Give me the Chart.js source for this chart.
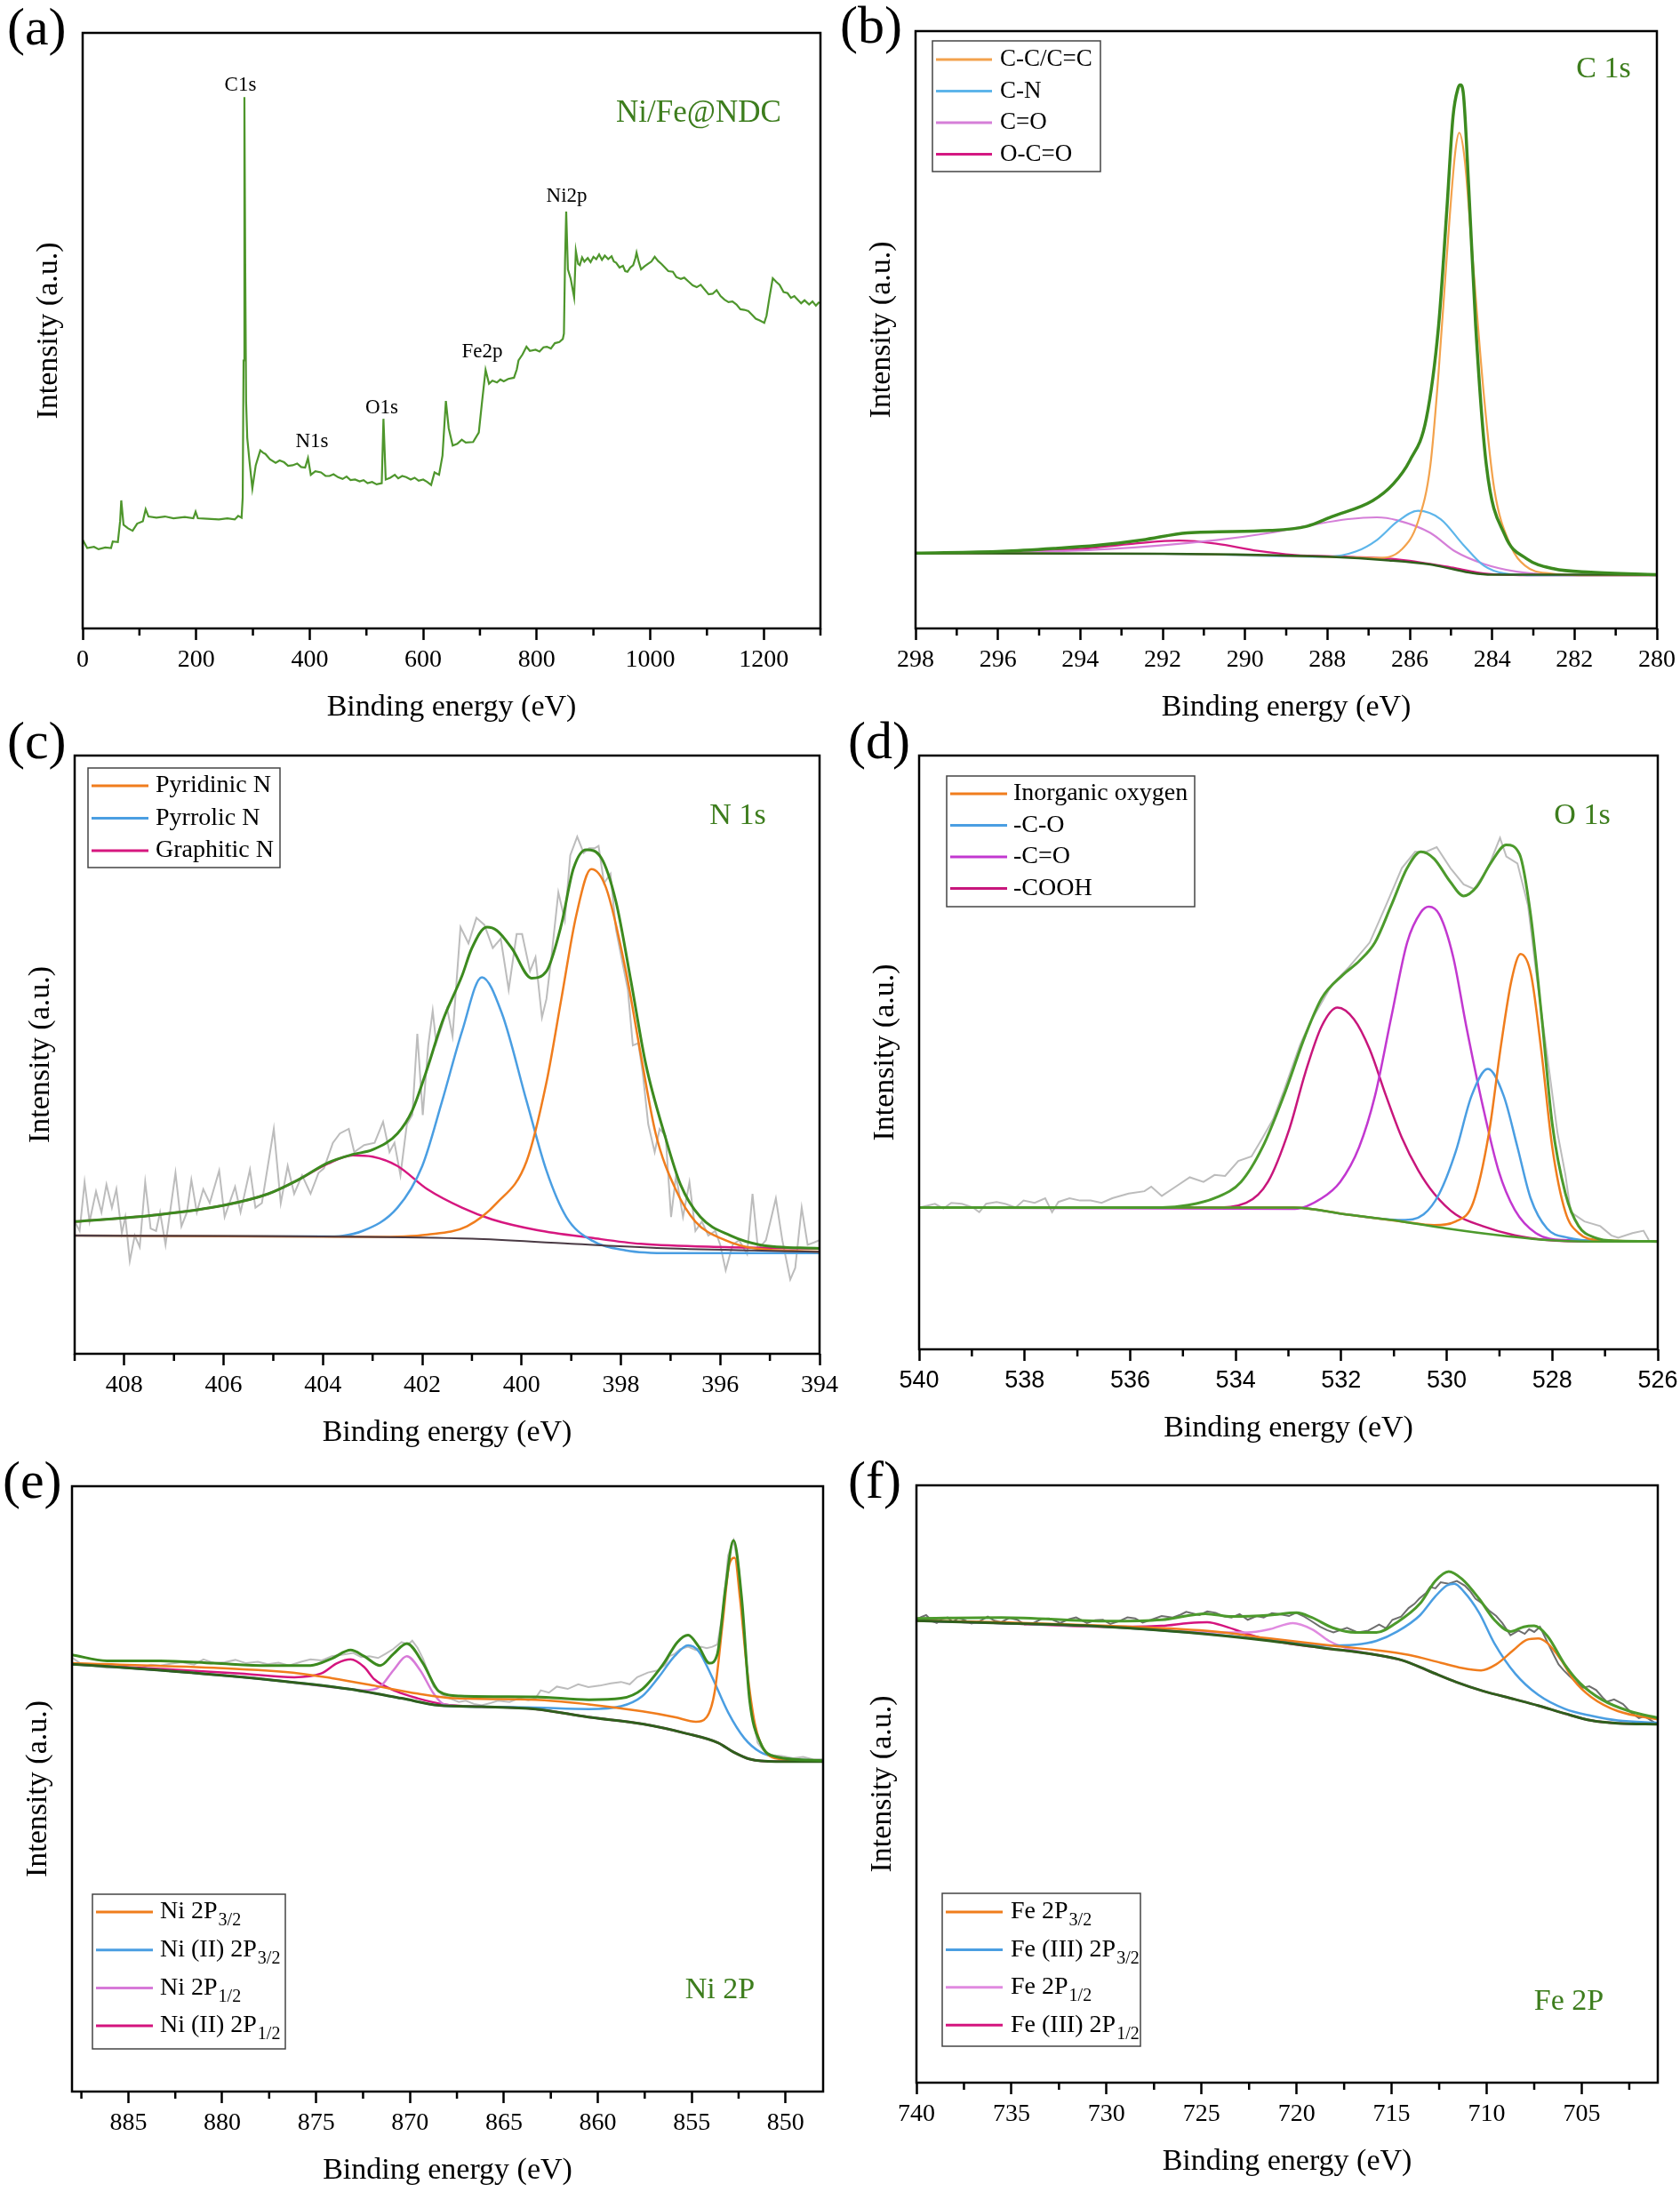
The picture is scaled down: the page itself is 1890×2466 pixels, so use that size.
<!DOCTYPE html>
<html>
<head>
<meta charset="utf-8">
<script src="https://cdn.jsdelivr.net/npm/chart.js@4.4.0/dist/chart.umd.min.js"></script>
<style>
html, body { margin: 0; padding: 0; background: #fff; }
body { width: 1890px; height: 2466px; position: relative; overflow: hidden; font-family: "Liberation Serif", "Times New Roman", serif; }
.panel { position: absolute; }
.tag { position: absolute; font-size: 60px; line-height: 1; color: #000; }
</style>
</head>
<body>
<div class="tag" style="left:8px;top:0px">(a)</div>
<div class="tag" style="left:945px;top:-2px">(b)</div>
<div class="tag" style="left:8px;top:803px">(c)</div>
<div class="tag" style="left:954px;top:803px">(d)</div>
<div class="tag" style="left:3px;top:1635px">(e)</div>
<div class="tag" style="left:954px;top:1635px">(f)</div>

<div class="panel" id="pa"><canvas id="ca"></canvas></div>
<div class="panel" id="pb"><canvas id="cb"></canvas></div>
<div class="panel" id="pc"><canvas id="cc"></canvas></div>
<div class="panel" id="pd"><canvas id="cd"></canvas></div>
<div class="panel" id="pe"><canvas id="ce"></canvas></div>
<div class="panel" id="pf"><canvas id="cf"></canvas></div>

<script>
// ---- tick labels (binding energy, eV) ----
const ticksA = [0, 200, 400, 600, 800, 1000, 1200];
const minorA = [100, 300, 500, 700, 900, 1100, 1300];
const ticksB = [298, 296, 294, 292, 290, 288, 286, 284, 282, 280];
const minorB = [297, 295, 293, 291, 289, 287, 285, 283, 281];
const ticksC = [408, 406, 404, 402, 400, 398, 396, 394];
const minorC = [409, 407, 405, 403, 401, 399, 397, 395];
const ticksD = [540, 538, 536, 534, 532, 530, 528, 526];
const minorD = [539, 537, 535, 533, 531, 529, 527];
const ticksE = [885, 880, 875, 870, 865, 860, 855, 850];
const minorE = [887.5, 882.5, 877.5, 872.5, 867.5, 862.5, 857.5, 852.5];
const ticksF = [740, 735, 730, 725, 720, 715, 710, 705];
const minorF = [737.5, 732.5, 727.5, 722.5, 717.5, 712.5, 707.5, 702.5];

// ---- (a) survey spectrum [eV, intensity a.u.] ----
const survey = [[0,14.9],[8,13.5],[20,13.7],[28,13.3],[40,13.6],[50,13.5],[53,14.6],[62,14.5],[66,18.0],[68,21.5],[72,17.4],[80,16.8],[88,16.4],[96,17.6],[106,18.0],[111,20.0],[116,18.8],[130,18.6],[145,18.8],[160,18.5],[180,18.7],[195,18.5],[199,19.6],[203,18.5],[220,18.4],[240,18.3],[255,18.5],[268,18.3],[274,18.9],[280,18.6],[282,22],[283.5,45],[285,89.2],[286.5,60],[288,38],[290,32],[294,28],[299,23.5],[305,27.4],[313,29.9],[318,29.5],[322,29.3],[330,28.4],[340,27.8],[347,28.2],[355,27.9],[362,27.3],[370,27.4],[378,27.7],[385,27.1],[392,27.0],[397,28.6],[402,25.8],[410,26.4],[420,26.2],[428,25.6],[435,25.6],[442,25.9],[450,25.4],[458,25.1],[465,25.5],[472,24.9],[480,25.0],[488,24.7],[495,24.9],[502,24.4],[510,24.6],[518,24.2],[527,24.4],[530,35.2],[534,25.0],[542,25.3],[550,25.8],[556,25.2],[563,25.6],[570,25.4],[578,25.0],[585,25.3],[592,24.8],[600,25.0],[607,24.6],[614,24.1],[620,26.2],[628,25.8],[634,29.0],[640,38.2],[645,33.6],[652,30.7],[660,31.0],[668,31.7],[675,31.2],[688,31.3],[698,32.9],[704,38.3],[710,43.4],[716,41.1],[722,41.6],[730,41.3],[736,41.8],[742,41.5],[750,41.9],[760,42.1],[765,43.5],[768,45.0],[775,46.0],[782,47.3],[788,46.6],[798,46.8],[805,46.5],[812,47.2],[818,47.3],[825,47.0],[832,47.9],[840,48.1],[846,48.6],[848,49.5],[850,61.8],[852,70.0],[855,60.3],[860,58.7],[866,55.6],[869,63.4],[873,61.2],[876,61.0],[880,62.3],[884,61.6],[890,62.2],[895,61.5],[900,62.4],[905,62.0],[910,62.8],[915,61.9],[920,62.6],[926,62.0],[932,62.5],[936,61.6],[940,61.4],[946,60.6],[952,60.9],[956,60.0],[960,59.9],[965,60.6],[970,61.0],[974,62.2],[976,63.1],[980,61.5],[984,60.3],[990,60.8],[996,61.2],[1002,61.6],[1008,62.4],[1014,61.7],[1020,61.2],[1026,60.6],[1032,60.0],[1040,59.9],[1046,59.0],[1054,58.7],[1060,58.9],[1068,58.2],[1075,57.6],[1082,57.3],[1089,57.7],[1096,56.9],[1103,56.1],[1110,56.2],[1117,56.8],[1124,55.8],[1131,55.2],[1138,54.8],[1145,54.9],[1152,54.4],[1159,53.6],[1166,53.5],[1173,53.3],[1180,52.6],[1186,52.0],[1193,51.7],[1201,51.3],[1205,52.5],[1210,55.5],[1216,58.8],[1222,58.2],[1228,57.7],[1235,56.5],[1242,56.3],[1248,55.5],[1254,55.8],[1260,55.2],[1266,54.6],[1272,55.1],[1280,54.4],[1286,54.9],[1292,54.2],[1298,54.8]];
const surveyNames = ['C1s', 'N1s', 'O1s', 'Fe2p', 'Ni2p'];
const surveyNameX = [278, 404, 527, 704, 853];
const surveyNameY = [91.2, 31.3, 37.0, 46.4, 72.5];

// ---- (b) C 1s ----
const c1sRaw = [[298,12.6],[295.9,12.9],[294.6,13.4],[293.6,13.9],[292.5,14.8],[291.4,16.0],[289.4,16.4],[288.5,17.1],[287.9,18.7],[286.9,21.4],[286.4,24.2],[286.0,28.1],[285.6,35.1],[285.3,50.7],[285.1,70.1],[284.95,85.7],[284.83,90.4],[284.77,91.0],[284.7,89.6],[284.57,74.0],[284.4,50.7],[284.14,27.3],[283.69,15.6],[283.17,11.7],[282.51,10.0],[281.6,9.4],[280,9.0]];
const c1sBg = [[298,12.6],[292,12.5],[288,12.0],[286.5,11.4],[285.5,10.7],[285,10.0],[284.5,9.3],[284,9.0],[280,9.0]];
const c1sCC = [[298,12.6],[292,12.5],[288,12.0],[286.8,11.8],[286.2,13.2],[285.8,17.9],[285.5,27.3],[285.3,42.9],[285.1,62.4],[284.9,79.5],[284.8,83.0],[284.67,78.7],[284.47,61.6],[284.2,39.0],[283.95,23.4],[283.56,14.0],[283.2,10.5],[282.6,9.2],[281.6,8.9],[280,8.9]];
const c1sCN = [[298,12.6],[292,12.5],[288,12.0],[287.3,12.9],[286.8,14.8],[286.3,17.9],[285.8,19.7],[285.25,18.3],[284.7,14.0],[284.2,10.5],[283.7,9.2],[282.9,8.9],[280,8.9]];
const c1sCO = [[298,12.6],[296,12.7],[293.3,13.3],[290.7,14.8],[289.4,16.0],[288.4,17.3],[287.5,18.3],[286.8,18.6],[286.3,18.1],[285.5,16.0],[284.9,12.9],[284.2,10.8],[283.4,9.5],[282.6,9.0],[281.6,8.9],[280,8.9]];
const c1sOCO = [[298,12.6],[295.9,12.7],[294.0,13.3],[292.7,14.2],[291.6,14.7],[290.7,14.2],[289.7,13.0],[288.8,12.3],[287.5,12.0],[286.2,11.5],[284.9,10.1],[284.2,9.2],[282.9,8.9],[280,8.9]];

// ---- (c) N 1s ----
const n1sRaw = [[409.0,285],[408.9,265],[408.8,370],[408.7,285],[408.57,350],[408.46,305],[408.36,365],[408.25,315],[408.16,355],[408.05,260],[407.98,295],[407.89,200],[407.79,255],[407.69,230],[407.58,370],[407.47,270],[407.36,265],[407.28,305],[407.17,235],[406.97,390],[406.85,275],[406.74,305],[406.65,375],[406.54,305],[406.41,355],[406.28,325],[406.09,395],[405.98,295],[405.77,360],[405.66,305],[405.47,397],[405.36,315],[405.23,325],[404.99,485],[404.85,325],[404.71,405],[404.58,345],[404.42,385],[404.25,345],[404.09,390],[403.98,400],[403.8,455],[403.66,475],[403.48,485],[403.37,435],[403.17,450],[402.96,455],[402.79,500],[402.66,435],[402.56,455],[402.44,385],[402.31,495],[402.2,515],[402.1,690],[401.99,515],[401.88,665],[401.79,740],[401.72,670],[401.61,705],[401.5,745],[401.39,685],[401.23,920],[401.07,885],[400.91,940],[400.75,925],[400.58,875],[400.42,895],[400.26,785],[400.1,905],[399.99,905],[399.83,825],[399.72,855],[399.59,725],[399.5,765],[399.4,855],[399.26,995],[399.13,935],[399.02,1075],[398.88,1115],[398.75,1080],[398.64,1090],[398.53,1090],[398.45,1095],[398.34,1015],[398.21,1035],[398.1,915],[397.99,855],[397.86,785],[397.76,665],[397.65,670],[397.56,605],[397.45,495],[397.32,435],[397.22,485],[397.1,470],[396.99,295],[396.89,385],[396.75,295],[396.62,370],[396.5,265],[396.37,285],[396.24,255],[396.1,265],[396.0,235],[395.89,180],[395.75,235],[395.62,245],[395.46,215],[395.35,345],[395.24,225],[395.08,245],[394.88,335],[394.75,245],[394.59,160],[394.49,185],[394.36,315],[394.24,235],[394.11,240],[394.0,245]];
const n1sBg = [[409,255],[404,253],[401,248],[399,237],[397,227],[394,220]];
const n1sPyridinic = [[409,255],[403,252],[401.9,257],[401.1,275],[400.5,325],[399.9,415],[399.5,585],[399.2,765],[398.9,945],[398.6,1045],[398.3,1005],[397.9,825],[397.6,645],[397.3,475],[396.9,355],[396.5,285],[395.9,245],[395.3,227],[394,220]];
const n1sPyrrolic = [[409,255],[404,253],[403.2,265],[402.5,315],[402.0,405],[401.6,545],[401.2,695],[400.8,812],[400.4,735],[399.9,545],[399.5,395],[399.1,295],[398.6,245],[397.9,223],[397.0,217],[394,217]];
const n1sGraphitic = [[409,285],[407.3,300],[406.0,320],[405.1,345],[404.5,375],[403.9,410],[403.4,428],[403.0,425],[402.5,405],[401.9,355],[401.2,315],[400.6,290],[399.7,267],[398.6,250],[397.6,237],[395.9,230],[394,227]];
const n1sFit = [[409,285],[407.3,300],[406.0,320],[405.1,345],[404.5,375],[403.9,412],[403.4,430],[403.0,440],[402.5,475],[402.2,525],[401.9,615],[401.6,715],[401.2,815],[401.0,875],[400.7,920],[400.5,913],[400.2,875],[399.8,810],[399.5,825],[399.2,925],[398.96,1045],[398.7,1087],[398.4,1070],[398.1,975],[397.8,805],[397.5,625],[397.1,465],[396.8,365],[396.4,295],[395.8,255],[395.2,235],[394,227]];

// ---- (d) O 1s ----
const o1sRaw = [[540,305],[539.7,313],[539.54,303],[539.39,315],[539.19,313],[538.98,305],[538.86,295],[538.73,313],[538.53,317],[538.37,313],[538.17,305],[538.02,320],[537.81,315],[537.61,325],[537.48,295],[537.36,317],[537.15,325],[536.95,320],[536.75,320],[536.54,315],[536.34,325],[536.03,335],[535.73,340],[535.6,350],[535.4,330],[535.2,345],[534.87,370],[534.61,360],[534.4,375],[534.2,373],[533.95,405],[533.7,415],[533.49,455],[533.29,495],[533.09,555],[532.78,655],[532.58,705],[532.17,785],[531.87,820],[531.46,875],[531.15,955],[530.85,1035],[530.6,1070],[530.39,1070],[530.19,1080],[529.93,1035],[529.68,1000],[529.48,990],[529.22,1035],[528.99,1100],[528.87,1060],[528.66,1045],[528.46,955],[528.31,815],[528.1,635],[527.9,465],[527.75,375],[527.65,295],[527.39,275],[527.09,265],[526.88,245],[526.75,240],[526.48,250],[526.27,255],[526.17,235]];
const o1sBg = [[540,305],[532.9,305],[531.9,290],[530.85,275],[530.0,260],[529.0,245],[528.1,235],[527.3,232],[526,232]];
const o1sInorganic = [[540,305],[532.9,305],[531.9,290],[530.85,275],[530.24,267],[529.83,275],[529.5,315],[529.2,465],[528.97,655],[528.77,795],[528.6,850],[528.4,805],[528.2,635],[528.0,435],[527.75,295],[527.5,250],[527.1,235],[526,232]];
const o1sCO = [[540,305],[532.9,305],[531.9,290],[530.85,278],[530.44,290],[530.14,335],[529.83,425],[529.53,545],[529.22,603],[528.92,545],[528.66,435],[528.41,325],[528.1,260],[527.7,240],[527.1,233],[526,232]];
const o1sCdO = [[540,305],[532.88,302],[532.37,325],[532.02,360],[531.66,435],[531.36,545],[531.05,715],[530.75,875],[530.49,940],[530.34,952],[530.14,935],[529.88,845],[529.63,695],[529.32,525],[529.02,385],[528.71,300],[528.31,250],[527.8,235],[526,232]];
const o1sCOOH = [[540,305],[534.4,305],[533.8,315],[533.39,360],[532.98,475],[532.68,595],[532.37,695],[532.07,735],[531.76,710],[531.46,645],[531.15,545],[530.85,455],[530.54,385],[530.24,335],[529.83,290],[529.32,265],[528.71,245],[528.1,235],[527.3,232],[526,232]];
const o1sFit = [[540,305],[535.4,305],[534.9,310],[534.4,325],[533.9,360],[533.49,435],[533.09,545],[532.68,675],[532.37,755],[531.97,805],[531.66,835],[531.36,875],[531.05,955],[530.75,1035],[530.49,1070],[530.24,1055],[529.93,1005],[529.68,975],[529.43,995],[529.17,1045],[528.87,1085],[528.62,1065],[528.41,935],[528.2,715],[528.0,485],[527.75,335],[527.5,265],[527.19,240],[526.78,233],[526,232]];

// ---- (e) Ni 2p ----
const ni2pRaw = [[888,927],[887.57,915],[887.0,910],[886.14,905],[885.3,908],[884.43,903],[883.8,912],[883.29,910],[882.7,914],[882.15,917],[881.5,912],[881.0,923],[880.4,915],[879.87,917],[879.3,922],[878.73,915],[878.1,918],[877.58,913],[877.0,916],[876.44,910],[875.8,918],[875.3,923],[874.7,921],[874.16,930],[873.6,933],[873.02,937],[872.6,928],[872.16,930],[871.7,926],[871.31,935],[870.9,945],[870.45,960],[870.1,955],[869.88,963],[869.6,948],[869.31,925],[869.0,892],[868.74,865],[868.3,848],[867.89,840],[867.4,832],[867.03,835],[866.6,828],[866.18,825],[865.7,830],[865.32,835],[864.7,832],[864.18,840],[863.7,836],[863.32,840],[863.04,857],[862.6,852],[862.18,865],[861.6,860],[861.04,870],[860.5,864],[859.9,867],[859.3,872],[858.76,875],[858.3,870],[857.9,885],[857.33,895],[856.76,900],[856.4,912],[856.19,930],[855.9,935],[855.62,945],[855.19,950],[854.77,943],[854.5,950],[854.2,947],[853.9,950],[853.63,955],[853.34,1025],[853.06,1145],[852.77,1177],[852.48,1115],[852.2,975],[851.91,835],[851.49,745],[851.06,723],[850.6,718],[850.2,717],[849.6,712],[849.06,715],[848.5,709],[848,710]];
const ni2pBg = [[888,913],[883.3,900],[877.6,880],[873.3,860],[870.45,840],[868.46,825],[866.2,822],[863.3,817],[860.5,800],[857.6,785],[855.3,765],[853.6,745],[852.77,725],[851.9,710],[850.5,705],[848,705]];
const ni2p32 = [[888,915],[880.44,905],[875.87,893],[874.16,883],[871.88,867],[869.6,850],[867.6,840],[863.32,837],[860.47,827],[857.62,812],[855.91,800],[854.77,790],[854.2,800],[853.77,855],[853.34,1005],[853.0,1125],[852.71,1140],[852.43,1055],[852.06,905],[851.63,785],[851.06,725],[850.2,710],[848,705]];
const ni2pII32 = [[888,913],[883.3,900],[877.6,880],[873.3,860],[870.45,840],[868.46,825],[866.2,822],[863.32,820],[860.47,817],[858.76,823],[857.62,845],[856.76,885],[855.91,930],[855.19,953],[854.62,940],[853.91,885],[853.06,810],[852.2,755],[851.34,725],[850.2,712],[848,707]];
const ni2p12 = [[888,913],[883.3,900],[877.6,880],[873.3,860],[872.45,857],[871.59,865],[870.88,900],[870.17,930],[869.46,900],[868.74,850],[868.17,827],[866.18,822],[863.3,817],[860.5,800],[857.6,785],[855.3,765],[853.6,745],[852.77,725],[851.9,710],[850.5,705],[848,705]];
const ni2pII12 = [[888,913],[883.29,903],[879.01,893],[876.16,885],[874.73,893],[873.88,915],[873.16,923],[872.45,907],[871.88,880],[870.74,855],[869.6,840],[868.17,827],[866.18,822],[863.3,817],[860.5,800],[857.6,785],[855.3,765],[853.6,745],[852.77,725],[851.9,710],[850.5,705],[848,705]];
const ni2pFit = [[888,933],[886.14,920],[883.29,920],[880.44,915],[877.58,910],[875.3,910],[874.16,925],[873.16,943],[872.45,930],[871.59,910],[870.88,935],[870.17,957],[869.31,915],[868.46,855],[867.32,845],[863.32,843],[860.47,837],[858.76,840],[857.62,860],[856.48,915],[855.76,960],[855.19,975],[854.62,950],[854.05,915],[853.63,935],[853.2,1075],[852.77,1177],[852.34,1055],[851.91,835],[851.34,745],[850.49,715],[848,707]];

// ---- (f) Fe 2p ----
const fe2pRaw = [[740,988],[739.75,994],[739.49,998],[739.2,986],[738.93,981],[738.65,990],[738.36,993],[738.08,983],[737.8,992],[737.52,988],[737.1,980],[736.67,985],[736.25,995],[735.9,986],[735.54,983],[735.1,992],[734.7,988],[734.3,978],[733.85,981],[733.4,990],[733.01,991],[732.44,981],[732.0,989],[731.6,993],[731.03,981],[730.6,987],[730.19,988],[729.8,979],[729.34,985],[728.9,993],[728.49,991],[728.1,982],[727.65,988],[727.1,996],[726.52,993],[726.1,999],[725.81,1005],[725.11,998],[724.7,1006],[724.26,1003],[723.8,995],[723.42,993],[723.0,1000],[722.57,988],[722.1,996],[721.73,993],[721.3,1002],[720.88,1000],[720.4,996],[720.03,1003],[719.6,995],[719.33,988],[718.76,973],[718.4,966],[718.06,961],[717.35,971],[716.79,961],[716.23,965],[715.66,978],[715.3,970],[714.96,988],[714.5,995],[714.11,1013],[713.8,1022],[713.55,1033],[713.2,1045],[712.98,1058],[712.7,1055],[712.42,1068],[712.0,1065],[711.57,1071],[711.15,1061],[710.85,1048],[710.59,1033],[710.2,1022],[709.88,1008],[709.5,996],[709.18,981],[708.75,955],[708.33,965],[708.0,958],[707.77,968],[707.5,962],[707.2,973],[706.78,938],[706.5,915],[706.22,893],[705.95,880],[705.65,868],[705.3,855],[704.95,843],[704.6,846],[704.24,838],[703.9,822],[703.68,813],[703.3,818],[702.83,808],[702.4,790],[701.99,778],[701.7,782],[701.42,775],[700.94,763]];
const fe2pBg = [[740,986],[735.54,981],[729.9,973],[725.7,961],[721.4,943],[718.6,928],[715.8,913],[714.4,901],[713.0,878],[711.6,855],[710.2,836],[708.5,818],[707.3,805],[705.9,788],[704.5,773],[703.1,767],[700.94,765]];
const fe2p32 = [[740,986],[735.54,983],[729.9,975],[724.3,963],[721.4,948],[718.6,935],[715.8,923],[714.1,913],[712.4,896],[711.3,885],[710.3,880],[709.5,893],[708.6,923],[707.9,945],[707.3,948],[706.8,938],[706.1,903],[705.4,858],[704.5,823],[703.1,793],[700.94,775]];
const fe2pIII32 = [[740,986],[735.54,981],[729.9,973],[725.7,961],[721.4,945],[720.0,938],[718.6,933],[716.9,935],[715.8,943],[714.7,963],[713.5,998],[712.7,1038],[712.1,1061],[711.7,1065],[711.2,1048],[710.4,1003],[709.6,938],[708.5,873],[707.3,828],[705.9,798],[704.5,783],[703.1,773],[700.94,768]];
const fe2p12 = [[740,986],[735.54,981],[729.9,973],[724.3,961],[722.6,961],[721.4,968],[720.2,981],[719.2,968],[718.3,943],[717.2,925],[715.8,913],[714.4,901],[713.0,878],[711.6,855],[710.2,836],[708.5,818],[707.3,805],[705.9,788],[704.5,773],[703.1,767],[700.94,765]];
const fe2pIII12 = [[740,986],[735.54,981],[729.9,973],[727.1,975],[725.7,981],[724.7,983],[723.7,973],[722.6,958],[721.4,945],[720.0,935],[718.6,928],[715.8,913],[714.4,901],[713.0,878],[711.6,855],[710.2,836],[708.5,818],[707.3,805],[705.9,788],[704.5,773],[703.1,767],[700.94,765]];
const fe2pFit = [[740,991],[735.54,993],[729.9,985],[727.1,988],[724.8,1001],[723.4,995],[721.4,998],[720.0,1003],[719.2,993],[718.1,971],[716.9,961],[715.8,961],[714.7,983],[713.5,1023],[712.7,1071],[712.0,1091],[711.3,1075],[710.4,1033],[709.6,988],[708.75,963],[708.05,973],[707.5,975],[706.8,953],[705.9,893],[705.1,853],[703.96,818],[702.5,793],[700.94,778]];

// ---- colours ----
const GREEN_FIT = '#3c8a1f';
const GREEN_BG = '#2f5f1c';
const GREEN_TEXT = '#3d7d1d';
const SERIF = '"Liberation Serif", "Times New Roman", serif';
const SANS = '"Liberation Sans", Arial, sans-serif';

Chart.defaults.font.family = SERIF;
Chart.defaults.color = '#000';

// frame, minor ticks, legend box and text notes, drawn against the chart area
const framePlugin = {
    id: 'frame',
    afterDatasetsDraw(chart, args, opts) {
        const { ctx, chartArea: a, scales } = chart;
        ctx.save();
        ctx.strokeStyle = '#000';
        ctx.lineWidth = 2.5;
        ctx.strokeRect(a.left, a.top, a.right - a.left, a.bottom - a.top);
        ctx.lineWidth = 2.5;
        ctx.beginPath();
        (opts.minor || []).forEach(v => {
            const px = scales.x.getPixelForValue(v);
            ctx.moveTo(px, a.bottom);
            ctx.lineTo(px, a.bottom + 8);
        });
        ctx.stroke();
        ctx.restore();
    },
    afterDraw(chart, args, opts) {
        const { ctx, chartArea: a, scales } = chart;
        ctx.save();
        (opts.notes || []).forEach(n => {
            let x, y;
            if (n.data) {
                x = scales.x.getPixelForValue(n.x);
                y = scales.y.getPixelForValue(n.y);
            } else {
                x = a.right - n.right;
                y = n.top != null ? a.top + n.top : a.bottom - n.bottom;
            }
            ctx.font = `${n.size}px ${SERIF}`;
            ctx.fillStyle = n.color || '#000';
            ctx.textAlign = 'center';
            ctx.textBaseline = 'middle';
            ctx.fillText(n.text, x, y);
        });
        const lg = opts.legend;
        if (lg) {
            const left = a.left + lg.dx;
            const top = lg.dy != null ? a.top + lg.dy : a.bottom - lg.dyb - lg.h;
            ctx.fillStyle = '#fff';
            ctx.fillRect(left, top, lg.w, lg.h);
            ctx.strokeStyle = '#444';
            ctx.lineWidth = 1.5;
            ctx.strokeRect(left, top, lg.w, lg.h);
            const items = chart.data.datasets.filter(d => d.inLegend);
            items.forEach((d, i) => {
                const cy = top + lg.first + i * lg.row;
                ctx.strokeStyle = d.borderColor;
                ctx.lineWidth = 3;
                ctx.beginPath();
                ctx.moveTo(left + 4, cy);
                ctx.lineTo(left + 4 + lg.line, cy);
                ctx.stroke();
                const tx = left + lg.text;
                ctx.font = `${lg.size}px ${SERIF}`;
                ctx.fillStyle = '#000';
                ctx.textAlign = 'left';
                ctx.textBaseline = 'middle';
                ctx.fillText(d.label, tx, cy);
                if (d.sub) {
                    const w = ctx.measureText(d.label).width;
                    ctx.font = `${Math.round(lg.size * 0.7)}px ${SERIF}`;
                    ctx.fillText(d.sub, tx + w + 1, cy + lg.size * 0.36);
                }
            });
        }
        ctx.restore();
    }
};

function toPoints(pairs) {
    return pairs.map(p => ({ x: p[0], y: p[1] }));
}

function makePanel(p) {
    const [L, T, R, B] = p.rect;
    const box = document.getElementById('p' + p.id);
    box.style.left = (L - 70) + 'px';
    box.style.top = (T - 10) + 'px';
    box.style.width = (R - L + 110) + 'px';
    box.style.height = (B - T + 127) + 'px';

    const datasets = p.series.map(s => ({
        label: s.label || '',
        sub: s.sub,
        inLegend: !!s.legend,
        data: toPoints(s.data),
        borderColor: s.color,
        borderWidth: s.width,
        pointRadius: 0,
        fill: false,
        tension: 0,
        cubicInterpolationMode: s.smooth ? 'monotone' : 'default',
        order: s.order
    }));

    new Chart(document.getElementById('c' + p.id), {
        type: 'line',
        data: { datasets },
        options: {
            responsive: true,
            maintainAspectRatio: false,
            animation: false,
            events: [],
            layout: { padding: { left: 10, top: 10, right: 40, bottom: 5 } },
            plugins: {
                legend: { display: false },
                tooltip: { enabled: false },
                frame: { notes: p.notes, legend: p.legend, minor: p.minor }
            },
            scales: {
                x: {
                    type: 'linear',
                    min: p.xmin,
                    max: p.xmax,
                    reverse: p.reverse,
                    afterBuildTicks: s => { s.ticks = p.major.map(v => ({ value: v })); },
                    afterFit: s => { s.height = 112; },
                    border: { display: false },
                    grid: { display: true, drawOnChartArea: false, drawTicks: true, tickLength: 13, tickWidth: 2.5, tickColor: '#000' },
                    ticks: {
                        autoSkip: false,
                        maxRotation: 0,
                        padding: 6,
                        font: { size: p.tickSize, family: p.tickFont },
                        color: '#000',
                        callback: v => String(v)
                    },
                    title: { display: true, text: 'Binding energy (eV)', font: { size: 34, family: SERIF }, color: '#000', padding: { top: 0, bottom: 3 } }
                },
                y: {
                    min: 0,
                    max: p.ymax,
                    afterFit: s => { s.width = 60; },
                    border: { display: false },
                    grid: { display: false },
                    ticks: { display: false },
                    title: { display: true, text: 'Intensity (a.u.)', font: { size: 34, family: SERIF }, color: '#000', padding: { top: 2, bottom: 0 } }
                }
            }
        },
        plugins: [framePlugin]
    });
}

const panels = [
    {
        id: 'a', rect: [93, 37, 923, 707], xmin: 0, xmax: 1300, reverse: false, ymax: 100,
        major: ticksA, minor: minorA, tickFont: SERIF, tickSize: 28,
        series: [{ data: survey, color: '#4e962c', width: 2.2, order: 0 }],
        notes: [
            ...surveyNames.map((t, i) => ({ data: true, text: t, x: surveyNameX[i], y: surveyNameY[i], size: 23 })),
            { text: 'Ni/Fe@NDC', right: 137, top: 91, size: 35, color: GREEN_TEXT }
        ]
    },
    {
        id: 'b', rect: [1030, 35, 1864, 707], xmin: 280, xmax: 298, reverse: true, ymax: 100,
        major: ticksB, minor: minorB, tickFont: SERIF, tickSize: 28,
        series: [
            { label: 'C-C/C=C', legend: true, data: c1sCC, color: '#f3a24c', width: 2.2, smooth: true, order: 2 },
            { label: 'C-N', legend: true, data: c1sCN, color: '#5db5ea', width: 2.2, smooth: true, order: 2 },
            { label: 'C=O', legend: true, data: c1sCO, color: '#d57fd8', width: 2.2, smooth: true, order: 2 },
            { label: 'O-C=O', legend: true, data: c1sOCO, color: '#d41882', width: 2.2, smooth: true, order: 2 },
            { data: c1sBg, color: GREEN_BG, width: 2.5, smooth: true, order: 1 },
            { data: c1sRaw, color: GREEN_FIT, width: 3.5, smooth: true, order: 0 }
        ],
        legend: { dx: 19, dy: 11, w: 189, h: 147, first: 21, row: 35.5, line: 63, text: 76, size: 27 },
        notes: [{ text: 'C 1s', right: 60, top: 43, size: 34, color: GREEN_TEXT }]
    },
    {
        id: 'c', rect: [84, 850, 922, 1523], xmin: 394, xmax: 409, reverse: true, ymax: 1290,
        major: ticksC, minor: minorC, tickFont: SERIF, tickSize: 28,
        series: [
            { data: n1sRaw, color: '#bcbcbc', width: 2, order: 5 },
            { label: 'Pyridinic N', legend: true, data: n1sPyridinic, color: '#f07d1d', width: 2.5, smooth: true, order: 2 },
            { label: 'Pyrrolic N', legend: true, data: n1sPyrrolic, color: '#4a9ee2', width: 2.5, smooth: true, order: 2 },
            { label: 'Graphitic N', legend: true, data: n1sGraphitic, color: '#d6177f', width: 2.5, smooth: true, order: 2 },
            { data: n1sBg, color: '#4a3a44', width: 2, smooth: true, order: 1 },
            { data: n1sFit, color: GREEN_FIT, width: 3, smooth: true, order: 0 }
        ],
        legend: { dx: 15, dy: 14, w: 216, h: 112, first: 20, row: 36.5, line: 64, text: 76, size: 28 },
        notes: [{ text: 'N 1s', right: 92, top: 68, size: 34, color: GREEN_TEXT }]
    },
    {
        id: 'd', rect: [1034, 850, 1865, 1518], xmin: 526, xmax: 540, reverse: true, ymax: 1277,
        major: ticksD, minor: minorD, tickFont: SANS, tickSize: 27,
        series: [
            { data: o1sRaw, color: '#bcbcbc', width: 2, order: 5 },
            { label: 'Inorganic oxygen', legend: true, data: o1sInorganic, color: '#f07d1d', width: 2.5, smooth: true, order: 2 },
            { label: '-C-O', legend: true, data: o1sCO, color: '#4a9ee2', width: 2.5, smooth: true, order: 2 },
            { label: '-C=O', legend: true, data: o1sCdO, color: '#c238d0', width: 2.5, smooth: true, order: 2 },
            { label: '-COOH', legend: true, data: o1sCOOH, color: '#c8167c', width: 2.5, smooth: true, order: 2 },
            { data: o1sBg, color: '#4c9a2c', width: 2.5, smooth: true, order: 1 },
            { data: o1sFit, color: '#4c9a2c', width: 3, smooth: true, order: 0 }
        ],
        legend: { dx: 31, dy: 23, w: 279, h: 147, first: 20, row: 35.5, line: 64, text: 75, size: 28 },
        notes: [{ text: 'O 1s', right: 85, top: 68, size: 34, color: GREEN_TEXT }]
    },
    {
        id: 'e', rect: [81, 1672, 926, 2353], xmin: 848, xmax: 888, reverse: true, ymax: 1293,
        major: ticksE, minor: minorE, tickFont: SERIF, tickSize: 28,
        series: [
            { data: ni2pRaw, color: '#bdbdbd', width: 2, order: 5 },
            { label: 'Ni 2P', sub: '3/2', legend: true, data: ni2p32, color: '#f07d1d', width: 2.5, smooth: true, order: 2 },
            { label: 'Ni (II) 2P', sub: '3/2', legend: true, data: ni2pII32, color: '#4a9ee2', width: 2.5, smooth: true, order: 2 },
            { label: 'Ni 2P', sub: '1/2', legend: true, data: ni2p12, color: '#d77ad8', width: 2.5, smooth: true, order: 2 },
            { label: 'Ni (II) 2P', sub: '1/2', legend: true, data: ni2pII12, color: '#d4147e', width: 2.5, smooth: true, order: 2 },
            { data: ni2pBg, color: GREEN_BG, width: 3, smooth: true, order: 1 },
            { data: ni2pFit, color: GREEN_FIT, width: 3, smooth: true, order: 0 }
        ],
        legend: { dx: 23, dyb: 48, w: 217, h: 174, first: 20, row: 42.7, line: 64, text: 76, size: 28 },
        notes: [{ text: 'Ni 2P', right: 116, bottom: 114, size: 34, color: GREEN_TEXT }]
    },
    {
        id: 'f', rect: [1031, 1671, 1865, 2343], xmin: 701, xmax: 740, reverse: true, ymax: 1275,
        major: ticksF, minor: minorF, tickFont: SERIF, tickSize: 28,
        series: [
            { data: fe2pRaw, color: '#6e6e6e', width: 2, order: 5 },
            { label: 'Fe 2P', sub: '3/2', legend: true, data: fe2p32, color: '#f07d1d', width: 2.5, smooth: true, order: 2 },
            { label: 'Fe (III) 2P', sub: '3/2', legend: true, data: fe2pIII32, color: '#4a9ee2', width: 2.5, smooth: true, order: 2 },
            { label: 'Fe 2P', sub: '1/2', legend: true, data: fe2p12, color: '#e08ae0', width: 2.5, smooth: true, order: 2 },
            { label: 'Fe (III) 2P', sub: '1/2', legend: true, data: fe2pIII12, color: '#d4147e', width: 2.5, smooth: true, order: 2 },
            { data: fe2pBg, color: GREEN_BG, width: 3, smooth: true, order: 1 },
            { data: fe2pFit, color: '#4c9a2c', width: 3, smooth: true, order: 0 }
        ],
        legend: { dx: 29, dyb: 41, w: 223, h: 172, first: 21, row: 42.4, line: 64, text: 77, size: 28 },
        notes: [{ text: 'Fe 2P', right: 100, bottom: 91, size: 34, color: GREEN_TEXT }]
    }
];

panels.forEach(makePanel);
</script>
</body>
</html>
